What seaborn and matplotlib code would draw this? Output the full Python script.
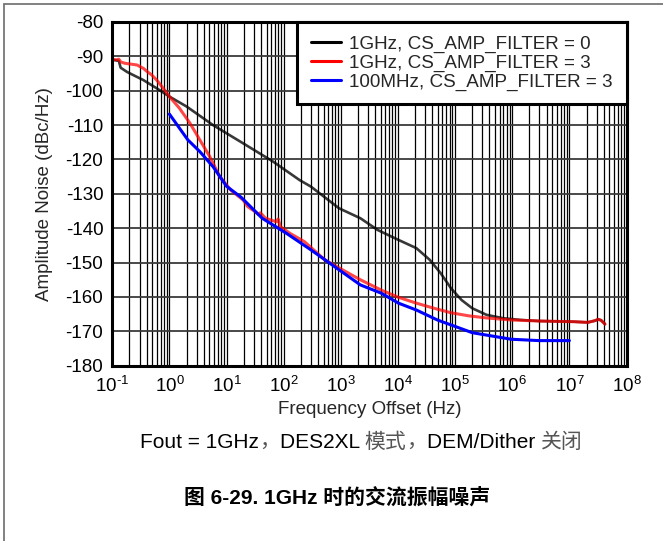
import numpy as np
import pandas as pd
import matplotlib
matplotlib.use("Agg")
import matplotlib.pyplot as plt
from matplotlib.ticker import LogLocator, NullFormatter, MultipleLocator, FuncFormatter
from matplotlib.lines import Line2D
from matplotlib.offsetbox import TextArea, HPacker, AnchoredOffsetbox
import seaborn as sns

# ---- measured amplitude-noise curves (offset frequency in Hz, level in dBc/Hz) ----
freq_1g_f0 = [0.1, 0.13, 0.14, 0.18, 0.23, 0.35, 0.6, 1.0, 2.0, 5.8, 19.5, 65, 190, 300,
              930, 2200, 4400, 10200, 21000, 36000, 56000, 85000, 130000, 200000, 355000,
              700000, 1.45e6, 2.95e6, 1.2e7, 2.1e7, 2.8e7, 3.2e7, 3.6e7, 4.2e7]
noise_1g_f0 = [-91.0, -91.3, -93.3, -94.5, -95.4, -96.9, -99.3, -101.7, -104.6, -110.0,
               -115.3, -120.6, -126.0, -127.9, -134.2, -137.1, -140.5, -143.4, -145.8,
               -149.2, -153.1, -157.5, -160.9, -163.3, -165.2, -166.2, -166.7, -167.0,
               -167.2, -167.4, -166.9, -166.5, -166.8, -167.9]

freq_1g_f3 = [0.1, 0.12, 0.13, 0.14, 0.165, 0.2, 0.27, 0.35, 0.42, 0.49, 0.6, 0.78, 1.0,
              1.5, 2.3, 3.4, 5.1, 7.6, 12, 19.5, 23.4, 33, 36, 39, 48, 74, 80, 87, 129,
              230, 525, 1070, 2200, 5100, 10200, 21000, 43000, 85000, 174000, 355000,
              955000, 2.95e6, 1.2e7, 2.1e7, 2.8e7, 3.2e7, 3.6e7, 4.2e7]
noise_1g_f3 = [-90.9, -91.0, -90.8, -91.6, -92.0, -92.2, -92.5, -93.5, -94.6, -95.4, -96.9,
               -99.3, -101.7, -105.1, -109.5, -114.3, -119.2, -125.0, -129.0, -131.8,
               -133.7, -135.4, -136.0, -135.5, -137.1, -138.1, -137.3, -139.5, -141.5,
               -143.9, -149.2, -152.1, -155.0, -158.0, -160.1, -161.8, -163.3, -164.6,
               -165.5, -166.1, -166.7, -167.0, -167.2, -167.4, -166.9, -166.5, -166.8,
               -167.9]

freq_100m_f3 = [1.0, 1.5, 2.1, 3.4, 5.8, 10, 18, 42, 112, 300, 930, 2200, 5100, 10200,
                21000, 49000, 200000, 955000, 2.95e6, 1e7]
noise_100m_f3 = [-106.8, -110.9, -114.3, -117.7, -122.1, -127.8, -131.0, -137.1, -141.5,
                 -146.3, -152.1, -156.5, -158.9, -161.8, -163.8, -166.7, -170.4, -172.3,
                 -172.7, -172.7]

series_labels = ["1GHz, CS_AMP_FILTER = 0",
                 "1GHz, CS_AMP_FILTER = 3",
                 "100MHz, CS_AMP_FILTER = 3"]
series_colors = ["black", "#ff0000", "#0000ff"]
series_alpha = [0.78, 0.72, 1.0]
series_width = [1.9, 2.2, 2.2]

x_ticks = [10.0 ** k for k in range(-1, 9)]
y_ticks = list(range(-180, -79, 10))

# ---- style ----
sns.set_style("white")
plt.rcParams["font.family"] = ["Liberation Sans", "Noto Sans CJK SC"]
plt.rcParams["axes.unicode_minus"] = False
plt.rcParams["mathtext.fontset"] = "custom"
plt.rcParams["mathtext.rm"] = "Liberation Sans"
plt.rcParams["mathtext.it"] = "Liberation Sans"

W, H = 663, 541
fig = plt.figure(figsize=(W / 100, H / 100), dpi=100)
ax_l, ax_r, ax_t, ax_b = 112.3, 626.5, 22.0, 365.7
ax = fig.add_axes([ax_l / W, 1 - ax_b / H, (ax_r - ax_l) / W, (ax_b - ax_t) / H])

frames = []
for f, n, lab in zip([freq_1g_f0, freq_1g_f3, freq_100m_f3],
                     [noise_1g_f0, noise_1g_f3, noise_100m_f3], series_labels):
    frames.append(pd.DataFrame({"freq": f, "noise": n, "series": lab}))
df = pd.concat(frames, ignore_index=True)

for lab, col, a, lw in zip(series_labels, series_colors, series_alpha, series_width):
    sub = df[df["series"] == lab]
    sns.lineplot(data=sub, x="freq", y="noise", ax=ax, color=col, alpha=a, lw=lw,
                 sort=False, estimator=None, label=lab, zorder=3)

ax.set_xscale("log")
ax.set_xlim(x_ticks[0], x_ticks[-1])
ax.set_ylim(y_ticks[0], y_ticks[-1])
ax.xaxis.set_major_locator(LogLocator(base=10, numticks=20))
ax.xaxis.set_minor_locator(LogLocator(base=10, subs=np.arange(2, 10), numticks=200))
ax.xaxis.set_minor_formatter(NullFormatter())


def decade_label(v, pos):
    k = int(round(np.log10(v)))
    exp = str(k).replace("-", "\u2010")
    return r"$\mathdefault{10^{%s}}$" % exp


ax.xaxis.set_major_formatter(FuncFormatter(decade_label))
ax.yaxis.set_major_locator(MultipleLocator(10))

ax.set_axisbelow(True)
ax.grid(which="both", axis="x", color="black", lw=0.9)
ax.grid(which="major", axis="y", color="#3a3a3a", lw=1.3)

for s in ax.spines.values():
    s.set_linewidth(2.2)
    s.set_color("black")
    s.set_zorder(5)

ax.tick_params(axis="both", which="both", length=0, labelsize=13.5, colors="black")
ax.tick_params(axis="y", pad=6.5)
ax.tick_params(axis="x", pad=7)

ax.set_xlabel("Frequency Offset (Hz)", fontsize=13.5, labelpad=4)
ax.set_ylabel("Amplitude Noise (dBc/Hz)", fontsize=13.5, labelpad=9)

leg = ax.legend(loc="upper right", borderaxespad=0, fancybox=False, edgecolor="black",
                framealpha=1, fontsize=13.6, handlelength=1.6, handletextpad=0.45,
                labelspacing=0.08, borderpad=0.72)
leg.get_frame().set_linewidth(2.2)
for h in leg.get_lines():
    h.set_alpha(1)
    h.set_linewidth(2.2)
leg.set_zorder(6)

# ---- condition line with mixed Latin / Chinese runs ----
latin = dict(fontsize=15, family="Liberation Sans", color="black")
cjk = dict(fontsize=15, family="Noto Sans CJK SC", color="#555555", weight="light")
runs = [("Fout = 1GHz", latin), ("，", cjk), ("DES2XL ", latin), ("模式", cjk),
        ("，", cjk), ("DEM/Dither ", latin), ("关闭", cjk)]
packer = HPacker(children=[TextArea(t, textprops=p) for t, p in runs],
                 align="baseline", pad=0, sep=0)
box = AnchoredOffsetbox(loc="center", child=packer, frameon=False, pad=0, borderpad=0,
                        bbox_to_anchor=(361.5 / W, 1 - 442 / H),
                        bbox_transform=fig.transFigure)
fig.add_artist(box)

fig.text(337 / W, 1 - 498 / H, "图 6-29. 1GHz 时的交流振幅噪声", ha="center", va="center",
         fontsize=15, fontweight="bold", color="black")

# page frame (top and left edges)
fig.add_artist(Line2D([4 / W, 1], [1 - 4 / H, 1 - 4 / H], transform=fig.transFigure,
                      color="#777777", lw=1.3))
fig.add_artist(Line2D([4 / W, 4 / W], [0, 1 - 4 / H], transform=fig.transFigure,
                      color="#777777", lw=1.3))

fig.savefig("out.png", dpi=100)
